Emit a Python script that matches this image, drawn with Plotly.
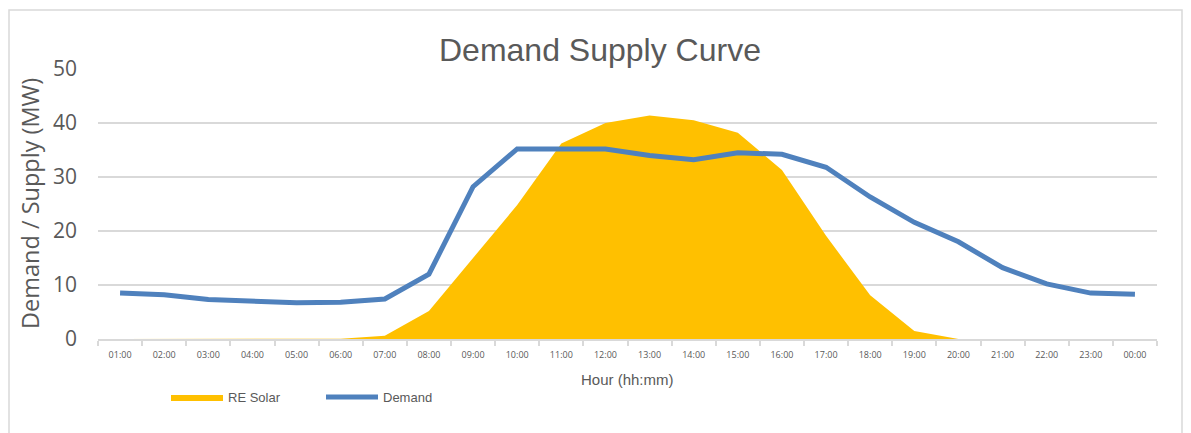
import plotly.graph_objects as go

hours = ["01:00", "02:00", "03:00", "04:00", "05:00", "06:00", "07:00", "08:00",
         "09:00", "10:00", "11:00", "12:00", "13:00", "14:00", "15:00", "16:00",
         "17:00", "18:00", "19:00", "20:00", "21:00", "22:00", "23:00", "00:00"]
solar = [0, 0, 0, 0, 0, 0.05, 0.6, 5.2, 15.0, 24.8, 36.2, 40.0, 41.4, 40.5,
         38.2, 31.3, 19.1, 8.1, 1.5, 0, 0, 0, 0, 0]
demand = [8.5, 8.2, 7.3, 6.9, 6.7, 6.8, 7.4, 12.0, 28.2, 35.2, 35.2, 35.2, 34.0,
          33.2, 34.5, 34.2, 31.8, 26.3, 21.6, 18.0, 13.2, 10.2, 8.5, 8.3]
y_ticks = [0, 10, 20, 30, 40, 50]

GRAY = "#595959"
GRID = "#d9d9d9"

# page has an 8px body margin; plot area in page pixels:
pl, pr, pt, pb = 98, 1157, 69, 339
def px_x(x):
    return (x - pl) / (pr - pl)
def px_y(y):
    return (pb - y) / (pb - pt)

fig = go.Figure()
fig.add_trace(go.Scatter(x=hours, y=solar, name="RE Solar", mode="lines",
                         fill="tozeroy", fillcolor="#FFC000",
                         line=dict(color="#FFC000", width=0)))
fig.add_trace(go.Scatter(x=hours, y=demand, name="Demand", mode="lines",
                         line=dict(color="#4F81BD", width=5)))

fig.update_layout(
    width=1183, height=425,
    margin=dict(l=90, r=34, t=61, b=94),
    paper_bgcolor="white", plot_bgcolor="white",
    showlegend=True,
    legend=dict(orientation="h", x=px_x(166), y=px_y(397), xanchor="left", yanchor="middle",
                font=dict(family="Liberation Sans, Arial", size=13, color=GRAY),
                itemwidth=52, entrywidth=88, tracegroupgap=0, bgcolor="rgba(0,0,0,0)"),
    xaxis=dict(type="category", range=[-0.5, 23.5], showgrid=False,
               showline=True, linecolor=GRID, linewidth=1.5,
               ticks="outside", tickson="boundaries", ticklen=5, tickcolor=GRID,
               tickwidth=1.5, ticklabelstandoff=6,
               tickfont=dict(family="Open Sans, DejaVu Sans", size=9, color=GRAY),
               fixedrange=True),
    yaxis=dict(range=[0, 50], tickvals=y_ticks, showgrid=True, gridcolor=GRID,
               gridwidth=1.5, zeroline=False, showline=False,
               ticklabelstandoff=20,
               tickfont=dict(family="Open Sans, DejaVu Sans", size=21, color=GRAY),
               fixedrange=True),
    annotations=[
        dict(text="Demand Supply Curve", x=px_x(600), y=px_y(50), xref="paper", yref="paper",
             xanchor="center", yanchor="middle", showarrow=False,
             font=dict(family="Liberation Sans, Arial", size=32, color=GRAY)),
        dict(text="Demand / Supply (MW)", x=px_x(30), y=px_y(204), xref="paper", yref="paper",
             xanchor="center", yanchor="middle", showarrow=False, textangle=-90,
             font=dict(family="Open Sans, DejaVu Sans", size=23.5, color=GRAY)),
        dict(text="Hour (hh:mm)", x=px_x(627), y=px_y(379), xref="paper", yref="paper",
             xanchor="center", yanchor="middle", showarrow=False,
             font=dict(family="Liberation Sans, Arial", size=15, color=GRAY)),
    ],
)

# outer chart border
fig.add_shape(type="rect", xref="paper", yref="paper",
              x0=px_x(9), x1=px_x(1182), y0=px_y(445), y1=px_y(10),
              line=dict(color=GRID, width=1.5), fillcolor="rgba(0,0,0,0)", layer="below")

fig.write_html("out.html")
